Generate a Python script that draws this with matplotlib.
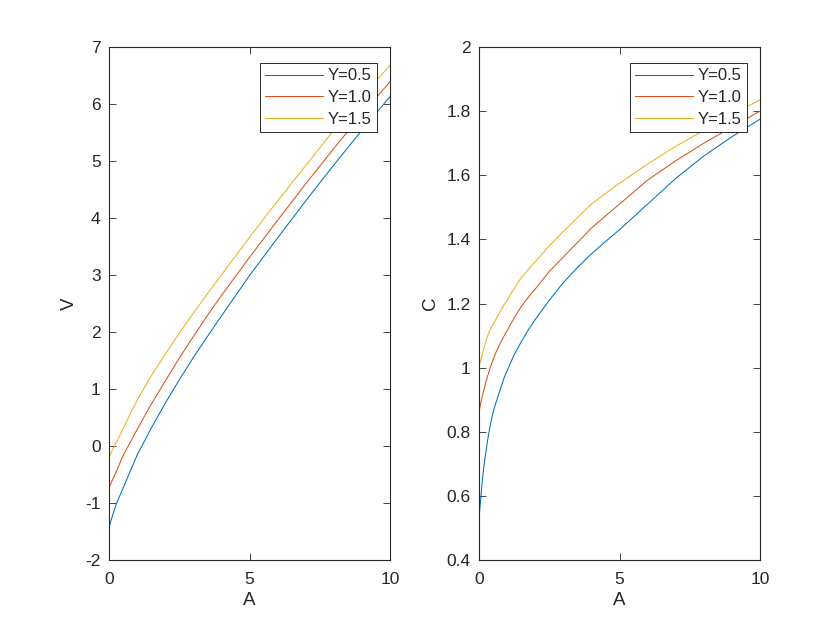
import matplotlib
matplotlib.use("Agg")
import matplotlib.pyplot as plt
from matplotlib.ticker import FormatStrFormatter

plt.rcParams["font.family"] = ["Arial", "Liberation Sans", "DejaVu Sans"]
plt.rcParams["axes.unicode_minus"] = False

# V against A
a_v = [0, 0.1, 0.25, 0.5, 0.75, 1, 1.5, 2, 2.5, 3, 3.5, 4, 5, 6, 7, 8, 9, 10]
v_05 = [-1.43, -1.26, -1.03, -0.74, -0.45, -0.16, 0.31, 0.75, 1.16, 1.55, 1.92, 2.28,
        2.99, 3.65, 4.30, 4.93, 5.54, 6.13]
v_10 = [-0.73, -0.62, -0.46, -0.17, 0.06, 0.29, 0.73, 1.14, 1.54, 1.92, 2.29, 2.64,
        3.31, 3.96, 4.60, 5.22, 5.82, 6.39]
v_15 = [-0.19, -0.09, 0.05, 0.30, 0.56, 0.80, 1.23, 1.61, 1.98, 2.33, 2.67, 3.00,
        3.66, 4.30, 4.92, 5.54, 6.12, 6.68]

# C against A
a_c = [0, 0.02, 0.05, 0.1, 0.15, 0.2, 0.3, 0.4, 0.5, 0.6, 0.75, 0.9, 1, 1.25, 1.5, 1.75,
       2, 2.5, 3, 3.5, 4, 4.5, 5, 6, 7, 8, 9, 10]
c_05 = [0.50, 0.55, 0.58, 0.63, 0.675, 0.71, 0.77, 0.82, 0.86, 0.89, 0.93, 0.97, 0.99,
        1.04, 1.08, 1.117, 1.15, 1.21, 1.265, 1.312, 1.355, 1.393, 1.43, 1.51, 1.59, 1.66,
        1.72, 1.775]
c_10 = [0.86, 0.87, 0.885, 0.905, 0.923, 0.94, 0.972, 1.0, 1.025, 1.047, 1.075, 1.10,
        1.115, 1.155, 1.19, 1.219, 1.245, 1.30, 1.345, 1.39, 1.435, 1.473, 1.51, 1.585,
        1.645, 1.70, 1.75, 1.80]
c_15 = [1.00, 1.01, 1.02, 1.035, 1.053, 1.07, 1.097, 1.12, 1.135, 1.15, 1.175, 1.197,
        1.21, 1.247, 1.28, 1.306, 1.33, 1.38, 1.425, 1.468, 1.51, 1.543, 1.575, 1.635,
        1.69, 1.74, 1.79, 1.835]

labels = ["Y=0.5", "Y=1.0", "Y=1.5"]
colors = ["#0072BD", "#D95319", "#EDB120"]
dark = "#262626"

fig = plt.figure(figsize=(8.4, 6.3), dpi=100)
ax1 = fig.add_axes([109 / 840, 70 / 630, 281 / 840, 513 / 630])
ax2 = fig.add_axes([479 / 840, 70 / 630, 281 / 840, 513 / 630])


def style(ax, xlabel, ylabel):
    for s in ax.spines.values():
        s.set_color(dark)
        s.set_linewidth(0.8)
    ax.tick_params(direction="in", length=5, width=0.6, colors=dark,
                   labelsize=12.5, top=True, right=True)
    ax.tick_params(axis="x", pad=9)
    ax.tick_params(axis="y", pad=6)
    ax.set_xlabel(xlabel, fontsize=13.5, color=dark, labelpad=3)
    ax.set_ylabel(ylabel, fontsize=13.5, color=dark, labelpad=5)
    leg = ax.legend(loc="upper right", bbox_to_anchor=(0.953, 0.968), borderaxespad=0,
                    fancybox=False, edgecolor=dark, fontsize=12, handlelength=3.5,
                    handletextpad=0.3, labelspacing=0.4, borderpad=0.3,
                    framealpha=1)
    leg.get_frame().set_linewidth(0.7)
    for t in leg.get_texts():
        t.set_color(dark)


for ys, c, lab in zip([v_05, v_10, v_15], colors, labels):
    ax1.plot(a_v, ys, color=c, lw=0.75, label=lab)
ax1.set_xlim(0, 10)
ax1.set_ylim(-2, 7)
ax1.set_xticks([0, 5, 10])
ax1.set_yticks(range(-2, 8))
style(ax1, "A", "V")

for ys, c, lab in zip([c_05, c_10, c_15], colors, labels):
    ax2.plot(a_c, ys, color=c, lw=0.75, label=lab)
ax2.set_xlim(0, 10)
ax2.set_ylim(0.4, 2)
ax2.set_xticks([0, 5, 10])
ax2.set_yticks([0.4, 0.6, 0.8, 1.0, 1.2, 1.4, 1.6, 1.8, 2.0])
ax2.yaxis.set_major_formatter(FormatStrFormatter("%g"))
style(ax2, "A", "C")

fig.savefig("out.png", dpi=100)
